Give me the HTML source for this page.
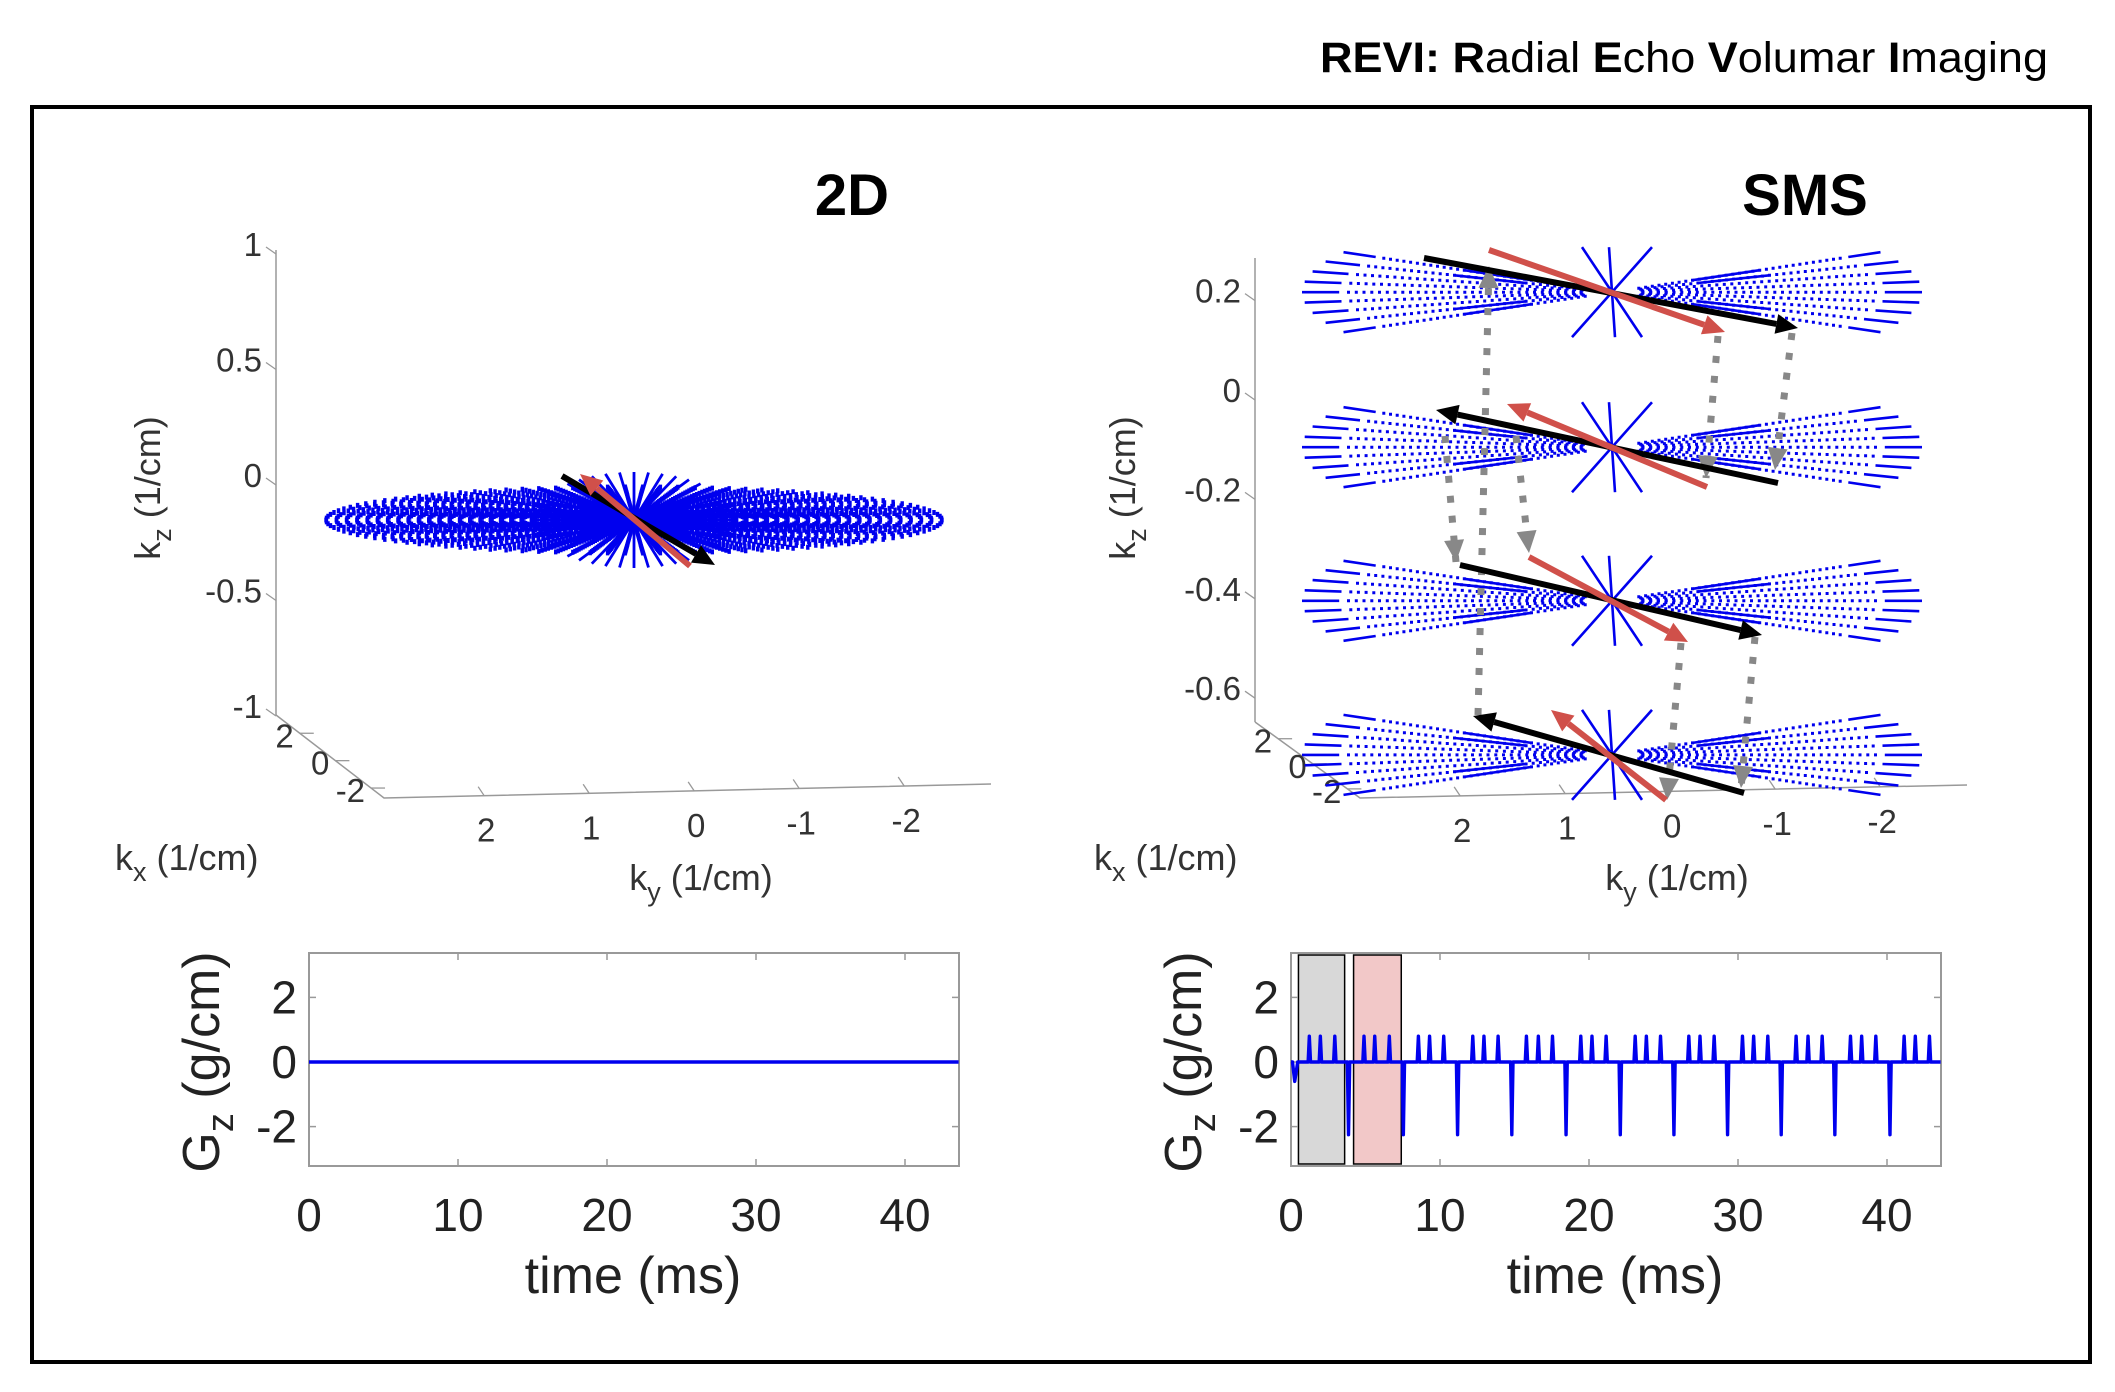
<!DOCTYPE html>
<html><head><meta charset="utf-8"><style>
html,body{margin:0;padding:0;background:#fff;}
svg{display:block;font-family:"Liberation Sans",Arial,sans-serif;}
</style></head><body>
<svg id="fig" xmlns="http://www.w3.org/2000/svg" width="2115" height="1392" viewBox="0 0 2115 1392">
<text x="2048" y="72" text-anchor="end" font-size="43" textLength="728" lengthAdjust="spacingAndGlyphs"><tspan font-weight="bold">REVI: </tspan><tspan font-weight="bold">R</tspan>adial <tspan font-weight="bold">E</tspan>cho <tspan font-weight="bold">V</tspan>olumar <tspan font-weight="bold">I</tspan>maging</text>
<rect x="32" y="107" width="2058" height="1255" fill="none" stroke="#000" stroke-width="4"/>
<text x="852" y="215" text-anchor="middle" font-size="58" font-weight="bold">2D</text>
<text x="1805" y="215" text-anchor="middle" font-size="58" font-weight="bold">SMS</text>
<g id="g3dL"></g>
<g id="g3dR"></g>
<g id="gzL"></g>
<g id="gzR"></g>
</svg>
<script>
// ---- data ----
const kzTicksL = [1, 0.5, 0, -0.5, -1];
const kzTicksR = [0.2, 0, -0.2, -0.4, -0.6];
const kyTicks = [2, 1, 0, -1, -2];
const kxTicks = [2, 0, -2];
const smsSliceKz = [0.217, -0.095, -0.404, -0.714];
const timeTicks = [0, 10, 20, 30, 40];
const gzTicks = [2, 0, -2];
const negSpikeTimes = [3.86, 7.54, 11.18, 14.82, 18.46, 22.1, 25.7, 29.3, 32.9, 36.5, 40.2];
const negSpikeValue = -2.25;
const posSpikeTimes = [1.23,1.97,2.94, 4.9,5.62,6.6, 8.55,9.3,10.25, 12.2,12.95,13.9, 15.8,16.6,17.55, 19.45,20.2,21.15, 23.1,23.85,24.8, 26.7,27.45,28.4, 30.3,31.05,32.0, 33.9,34.7,35.65, 37.55,38.3,39.25, 41.15,41.9,42.85];
const posSpikeValue = 0.8;
const blockGray = [0.5, 3.6];
const blockRed = [4.2, 7.4];

const NS = "http://www.w3.org/2000/svg";
function mk(parent, tag, attrs, txt){ const e=document.createElementNS(NS,tag); for(const k in attrs) e.setAttribute(k,attrs[k]); if(txt!==undefined) e.textContent=txt; parent.appendChild(e); return e; }

function axes3d(g, o){
  const ax = o.axisX, zTop=o.zTop, zBot=o.zBot;
  let e=mk(g,'line',{x1:ax,y1:zTop,x2:ax,y2:zBot,stroke:'#999','stroke-width':1.5});
   
  e=mk(g,'polyline',{points:`${ax},${zBot} ${o.corner[0]},${o.corner[1]} ${o.end[0]},${o.end[1]}`,fill:'none',stroke:'#999','stroke-width':1.5});
   
  o.zt.forEach(v=>{
    const y=o.zy(v);
    mk(g,'line',{x1:ax,y1:y,x2:ax-10,y2:y-7,stroke:'#999','stroke-width':1.3});
    const t=mk(g,'text',{x:ax-14,y:y+2,'text-anchor':'end','font-size':33,fill:'#333'},String(v));
     
  });
  kyTicks.forEach((v,i)=>{
    const x=o.corner[0]+(o.end[0]-o.corner[0])*(0.165+i*0.173), y=o.corner[1]+(o.end[1]-o.corner[1])*(0.165+i*0.173);
    mk(g,'line',{x1:x,y1:y,x2:x-6,y2:y-9,stroke:'#999','stroke-width':1.3});
    const t=mk(g,'text',{x:x+2,y:y+46,'text-anchor':'middle','font-size':33,fill:'#333'},String(v));
     
  });
  kxTicks.forEach((v,i)=>{
    const fr=0.22+i*0.33, x=ax+(o.corner[0]-ax)*fr, y=o.zBot+(o.corner[1]-o.zBot)*fr;
    mk(g,'line',{x1:x,y1:y,x2:x+14,y2:y,stroke:'#999','stroke-width':1.3});
    const t=mk(g,'text',{x:x-6,y:y+14,'text-anchor':'end','font-size':33,fill:'#333'},String(v));
     
  });
  let t=mk(g,'text',{x:o.kxLab[0],y:o.kxLab[1],'font-size':36,fill:'#333'});
  t.innerHTML='k<tspan font-size="27" dy="11">x</tspan><tspan dy="-11"> (1/cm)</tspan>';
   
  t=mk(g,'text',{x:o.kyLab[0],y:o.kyLab[1],'text-anchor':'middle','font-size':36,fill:'#333'});
  t.innerHTML='k<tspan font-size="27" dy="11">y</tspan><tspan dy="-11"> (1/cm)</tspan>';
   
  t=mk(g,'text',{x:0,y:0,'text-anchor':'middle','font-size':36,fill:'#333',transform:`translate(${o.kzLab[0]},${o.kzLab[1]}) rotate(-90)`});
  t.innerHTML='k<tspan font-size="27" dy="11">z</tspan><tspan dy="-11"> (1/cm)</tspan>';
   
}
function arrow(g,x1,y1,x2,y2,col,w,name){
  const a=Math.atan2(y2-y1,x2-x1), L=22, hw=10;
  const bx=x2-L*Math.cos(a), by=y2-L*Math.sin(a);
  let e=mk(g,'line',{x1:x1,y1:y1,x2:bx,y2:by,stroke:col,'stroke-width':w});
   
  e=mk(g,'polygon',{points:`${x2},${y2} ${bx-hw*Math.sin(a)},${by+hw*Math.cos(a)} ${bx+hw*Math.sin(a)},${by-hw*Math.cos(a)}`,fill:col});
   
}
function dotted(g,x1,y1,x2,y2,name){
  let e=mk(g,'line',{x1:x1,y1:y1,x2:x2,y2:y2,stroke:'#888','stroke-width':7,'stroke-dasharray':'7 13'});
   
  const a=Math.atan2(y2-y1,x2-x1), L=22,hw=10, bx=x2-L*Math.cos(a), by=y2-L*Math.sin(a);
  e=mk(g,'polygon',{points:`${x2},${y2} ${bx-hw*Math.sin(a)},${by+hw*Math.cos(a)} ${bx+hw*Math.sin(a)},${by-hw*Math.cos(a)}`,fill:'#888'});
   
}

// ---- Left 3D ----
(function(){
  const g=document.getElementById('g3dL');
  const zy=v=>485-v*231;
  axes3d(g,{axisX:276,zTop:250,zBot:715,corner:[384,798],end:[991,784],zt:kzTicksL,zy:zy,kxLab:[115,870],kyLab:[701,890],kzLab:[160,488]});
  const cx=634, cy=520, rx=308, ry=33;
  let d='';
  const nsp=110;
  for(let s=0;s<nsp;s++){
    const th=s/nsp*2*Math.PI;
    for(let k=2;k<=30;k++){
      const r=k/30, x=cx+rx*r*Math.cos(th), y=cy+ry*r*Math.sin(th);
      d+=`M${x.toFixed(1)},${(y-2.5).toFixed(1)}v5`;
    }
  }
  let e=mk(g,'path',{d:d,stroke:'#0000ee','stroke-width':3.4,fill:'none'});
   
  let d2='';
  for(let s=0;s<44;s++){ const th=s/44*2*Math.PI;
    d2+=`M${cx},${cy}L${(cx+rx*0.33*Math.cos(th)).toFixed(1)},${(cy+48*Math.sin(th)).toFixed(1)}`;}
  e=mk(g,'path',{d:d2,stroke:'#0000ee','stroke-width':2.8,fill:'none'});
   
  arrow(g,562,476,715,565,'#000',6,'readout-arrow-black');
  arrow(g,690,566,580,474,'#d0504a',6,'readout-arrow-red');
})();

// ---- Right 3D ----
(function(){
  const g=document.getElementById('g3dR');
  const zy=v=>400-v*497;
  axes3d(g,{axisX:1255,zTop:258,zBot:722,corner:[1360,798],end:[1967,785],zt:kzTicksR,zy:zy,kxLab:[1094,870],kyLab:[1677,890],kzLab:[1135,488]});
  const cx=1612, rx=310, ry=40;
  smsSliceKz.forEach((kz,si)=>{
    const cy=zy(kz);
    let d='', ds='';
    const angs=[];
    for(let a=-30;a<=30.1;a+=7.5) angs.push(a*Math.PI/180);
    angs.forEach(a=>{
      [1,-1].forEach(sg=>{
        const ca=Math.cos(a)*sg, sa=Math.sin(a)*sg;
        for(let k=4;k<=34;k++){ const r=k/40; const x=cx+rx*r*ca, y=cy+ry*r*sa/0.5;
          d+=`M${(x-1.5).toFixed(1)},${y.toFixed(1)}h3`; }
        const x1=cx+rx*0.88*ca, y1=cy+ry*0.88*sa/0.5, x2=cx+rx*1.0*ca, y2=cy+ry*1.0*sa/0.5;
        ds+=`M${x1.toFixed(1)},${y1.toFixed(1)}L${x2.toFixed(1)},${y2.toFixed(1)}`;
        if(Math.abs(a)>0.3){ const u1=cx+rx*0.3*ca, v1=cy+ry*0.3*sa/0.5, u2=cx+rx*0.55*ca, v2=cy+ry*0.55*sa/0.5;
          ds+=`M${u1.toFixed(1)},${v1.toFixed(1)}L${u2.toFixed(1)},${v2.toFixed(1)}`; }
      });
    });
    ds+=`M${cx-30},${cy-45}L${cx+30},${cy+45}M${cx+40},${cy-45}L${cx-40},${cy+45}M${cx-3},${cy-45}L${cx+3},${cy+45}`;
    let e=mk(g,'path',{d:d,stroke:'#0000ee','stroke-width':3,fill:'none'});
     
    e=mk(g,'path',{d:ds,stroke:'#0000ee','stroke-width':2.6,fill:'none'});
     
  });
  dotted(g,1478,715,1489,266,'connector-a');
  dotted(g,1445,436,1456,562,'connector-b');
  dotted(g,1516,436,1529,553,'connector-c');
  dotted(g,1718,336,1706,478,'connector-d');
  dotted(g,1792,333,1775,470,'connector-e');
  dotted(g,1681,643,1667,800,'connector-f');
  dotted(g,1755,637,1741,788,'connector-g');
  arrow(g,1424,258,1798,328,'#000',6,'slice1-black-arrow');
  arrow(g,1489,250,1725,332,'#d0504a',6,'slice1-red-arrow');
  arrow(g,1778,483,1436,410,'#000',6,'slice2-black-arrow');
  arrow(g,1707,487,1507,404,'#d0504a',6,'slice2-red-arrow');
  arrow(g,1460,565,1762,635,'#000',6,'slice3-black-arrow');
  arrow(g,1529,557,1688,642,'#d0504a',6,'slice3-red-arrow');
  arrow(g,1744,793,1473,716,'#000',6,'slice4-black-arrow');
  arrow(g,1666,800,1551,710,'#d0504a',6,'slice4-red-arrow');
})();

// ---- Gz plots ----
function gzPlot(g, x0, sms){
  const top=953, bot=1166, w=650;
  const X=t=>x0+t*14.9, Y=v=>1062-v*32.3;
  if(sms){
    let e=mk(g,'rect',{x:X(blockGray[0]),y:top+2,width:X(blockGray[1])-X(blockGray[0]),height:bot-top-4,fill:'#d8d8d8',stroke:'#000','stroke-width':1.5});
     
    e=mk(g,'rect',{x:X(blockRed[0]),y:top+2,width:X(blockRed[1])-X(blockRed[0]),height:bot-top-4,fill:'#f2c8c8',stroke:'#000','stroke-width':1.5});
     
  }
  let e=mk(g,'rect',{x:x0,y:top,width:w,height:bot-top,fill:'none',stroke:'#999','stroke-width':2});
   
  timeTicks.forEach(t=>{
    if(t>0){mk(g,'line',{x1:X(t),y1:top,x2:X(t),y2:top+7,stroke:'#999','stroke-width':1.5});mk(g,'line',{x1:X(t),y1:bot,x2:X(t),y2:bot-7,stroke:'#999','stroke-width':1.5});}
    const tx=mk(g,'text',{x:X(t),y:1231,'text-anchor':'middle','font-size':46,fill:'#222'},String(t));
     
  });
  gzTicks.forEach(v=>{
    mk(g,'line',{x1:x0,y1:Y(v),x2:x0+7,y2:Y(v),stroke:'#999','stroke-width':1.5});
    mk(g,'line',{x1:x0+w,y1:Y(v),x2:x0+w-7,y2:Y(v),stroke:'#999','stroke-width':1.5});
    const tx=mk(g,'text',{x:x0-12,y:Y(v)+16,'text-anchor':'end','font-size':46,fill:'#222'},String(v));
     
  });
  let tx=mk(g,'text',{x:x0+324,y:1293,'text-anchor':'middle','font-size':52,fill:'#222'},'time (ms)');
   
  tx=mk(g,'text',{x:0,y:0,'text-anchor':'middle','font-size':52,fill:'#222',transform:`translate(${x0-90},1062) rotate(-90)`});
  tx.innerHTML='G<tspan font-size="38" dy="14">z</tspan><tspan dy="-14"> (g/cm)</tspan>';
   
  let d=`M${X(0)},${Y(0)}`;
  if(sms){
    const ev=[];
    posSpikeTimes.forEach(t=>ev.push([t,posSpikeValue]));
    negSpikeTimes.forEach(t=>ev.push([t,negSpikeValue]));
    ev.sort((a,b)=>a[0]-b[0]);
    d+=`L${X(0.1)},${Y(0)}L${X(0.25)},${Y(-0.6)}L${X(0.45)},${Y(0)}`;
    ev.forEach(([t,v])=>{ d+=`L${X(t-0.08)},${Y(0)}L${X(t)},${Y(v)}L${X(t+0.08)},${Y(0)}`; });
  }
  d+=`L${X(43.6)},${Y(0)}`;
  e=mk(g,'path',{d:d,fill:'none',stroke:'#0000ee','stroke-width':3.4,'stroke-linejoin':'round'});
   
}
gzPlot(document.getElementById('gzL'),309,false);
gzPlot(document.getElementById('gzR'),1291,true);
</script>
</body></html>
